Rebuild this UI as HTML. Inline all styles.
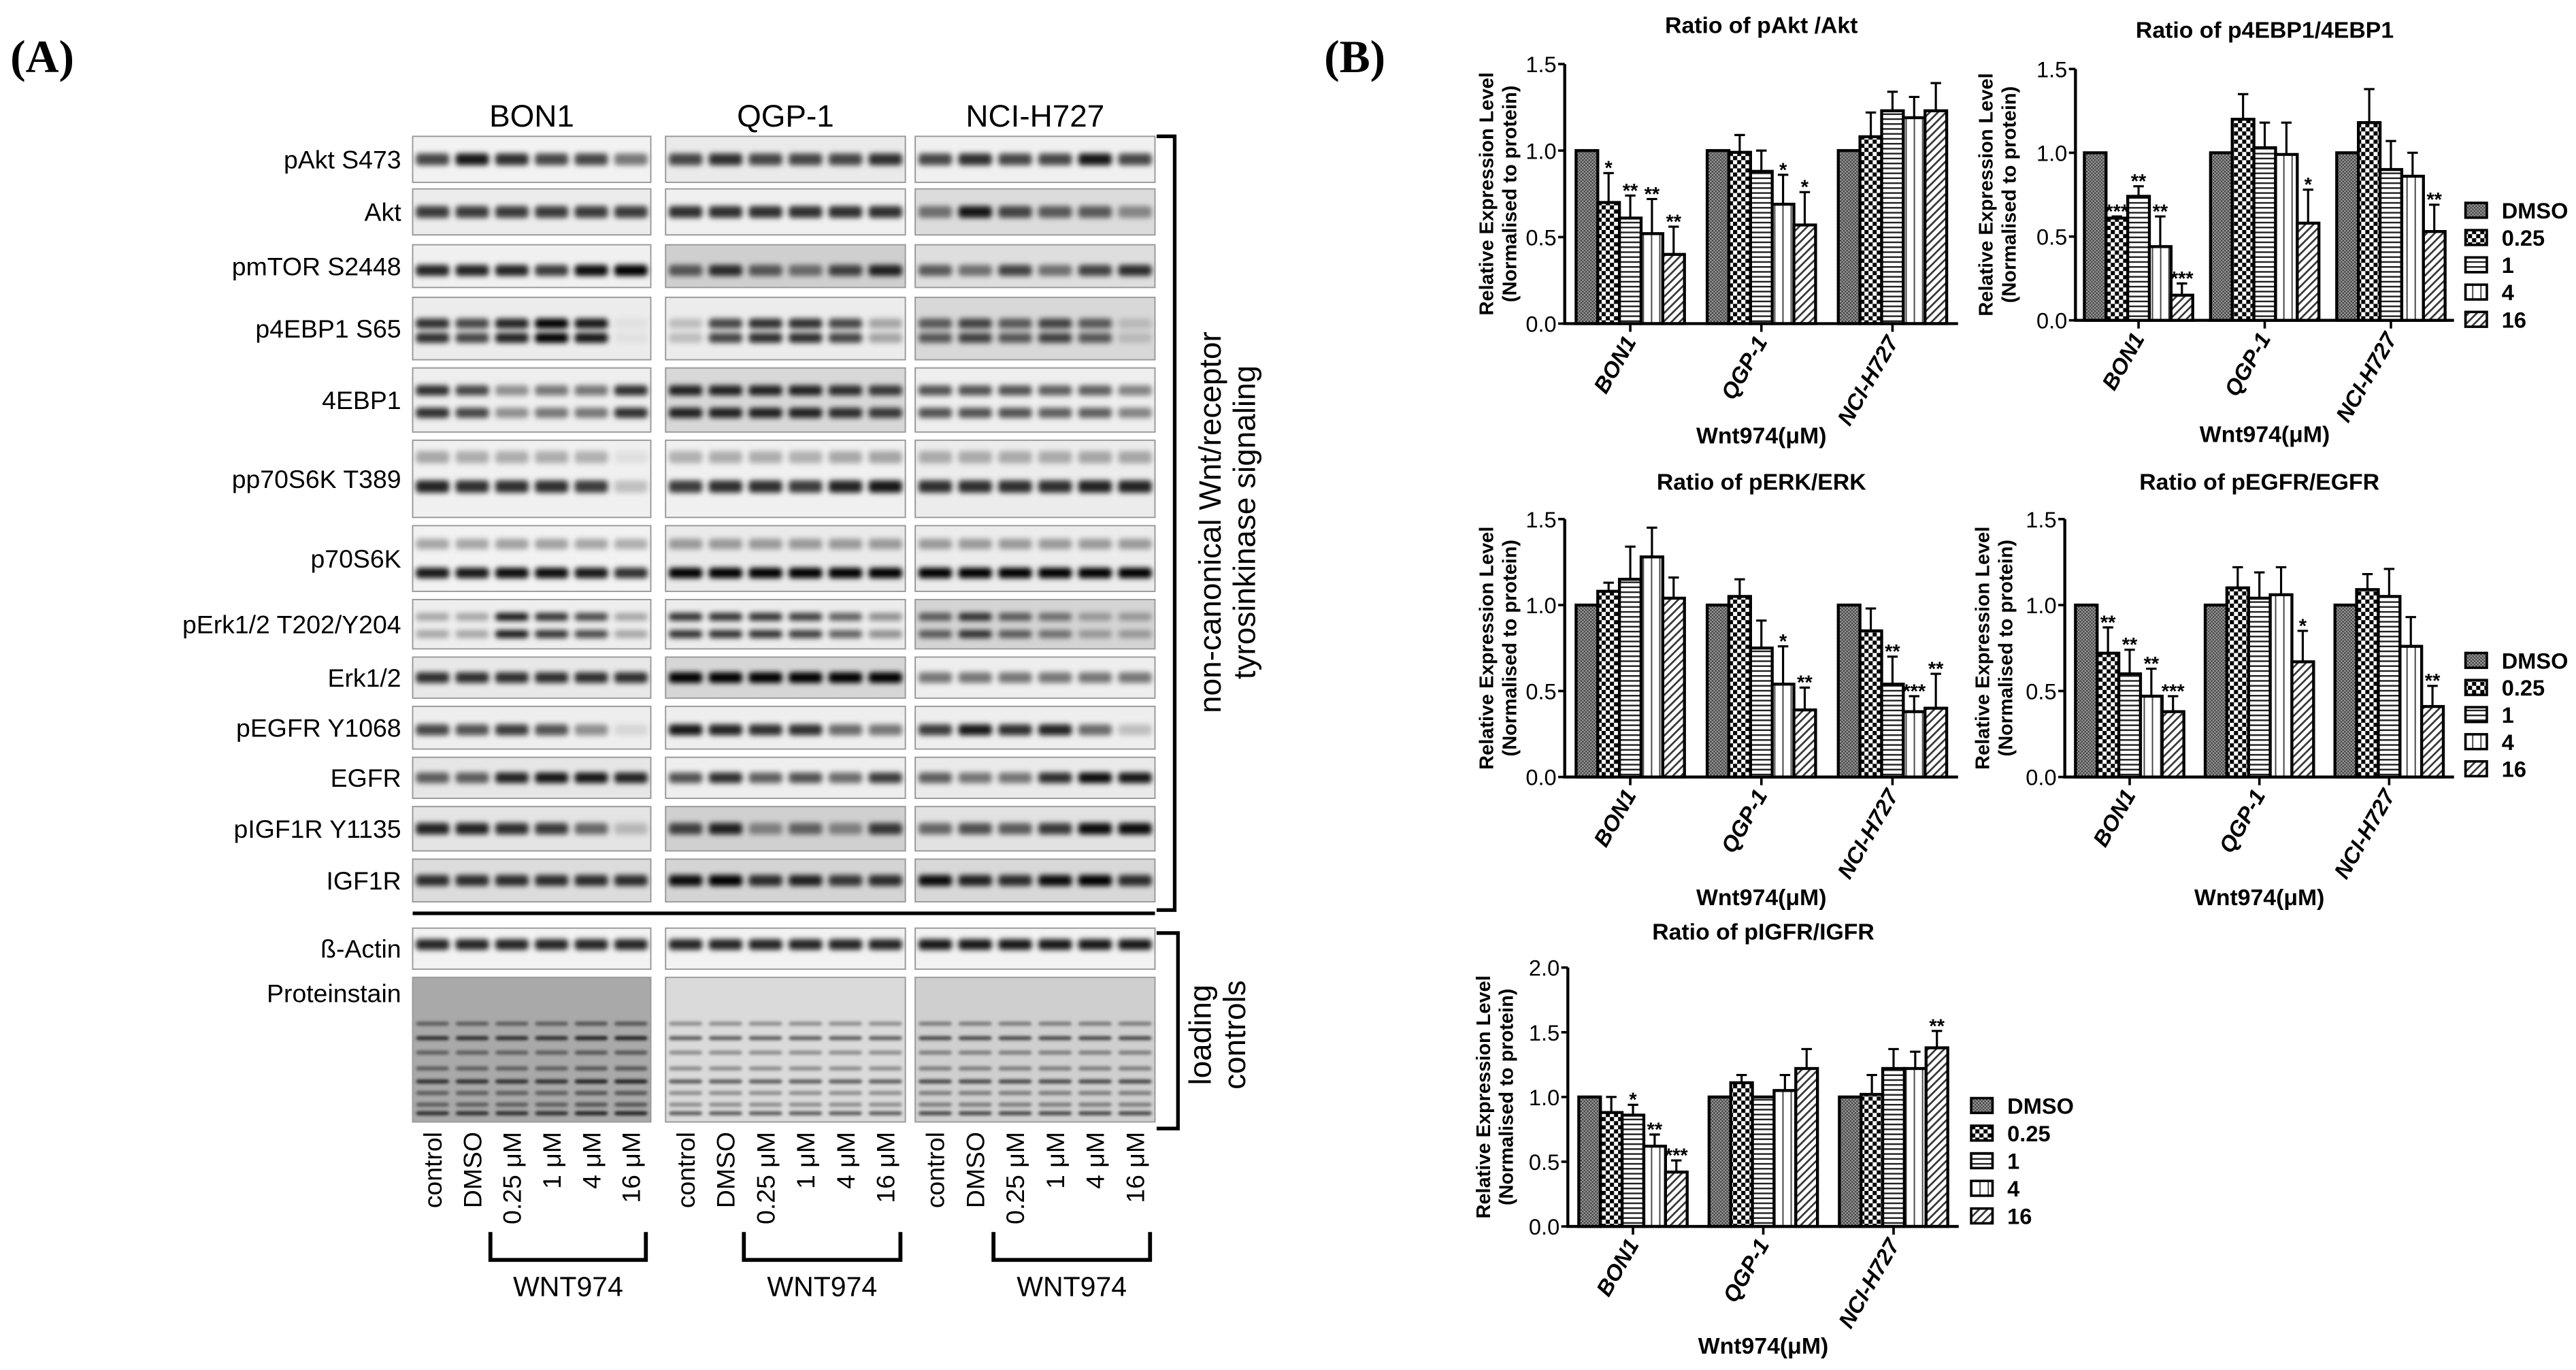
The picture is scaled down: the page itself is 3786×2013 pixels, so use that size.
<!DOCTYPE html>
<html><head><meta charset="utf-8">
<style>
html,body{margin:0;padding:0;background:#fff;}
svg{display:block;}
text{font-family:"Liberation Sans",sans-serif;}
.nar{font-family:"Liberation Sans Narrow","Liberation Sans",sans-serif;}
</style></head>
<body>
<svg id="fig" xmlns="http://www.w3.org/2000/svg" width="3786" height="2013" viewBox="0 0 1568 834">
<defs>
  <filter id="blur" x="-50%" y="-100%" width="200%" height="300%"><feGaussianBlur stdDeviation="1.6"/></filter>
  <filter id="blur2" x="-50%" y="-100%" width="200%" height="300%"><feGaussianBlur stdDeviation="0.9"/></filter>
  <pattern id="pDMSO" patternUnits="userSpaceOnUse" width="2" height="2">
    <rect width="2" height="2" fill="#9a9a9a"/><rect width="1" height="1" fill="#444"/><rect x="1" y="1" width="1" height="1" fill="#444"/>
  </pattern>
  <pattern id="p025" patternUnits="userSpaceOnUse" width="5" height="5">
    <rect width="5" height="5" fill="#fff"/><rect width="2.5" height="2.5" fill="#000"/><rect x="2.5" y="2.5" width="2.5" height="2.5" fill="#000"/>
  </pattern>
  <pattern id="p1" patternUnits="userSpaceOnUse" width="4" height="3">
    <rect width="4" height="3" fill="#fff"/><rect y="0" width="4" height="1" fill="#222"/>
  </pattern>
  <pattern id="p4" patternUnits="userSpaceOnUse" width="5" height="4">
    <rect width="5" height="4" fill="#fff"/><rect x="0" width="0.8" height="4" fill="#444"/>
  </pattern>
  <pattern id="p16" patternUnits="userSpaceOnUse" width="3.5" height="3.5" patternTransform="rotate(45)">
    <rect width="3.5" height="3.5" fill="#fff"/><rect width="1.1" height="3.5" fill="#333"/>
  </pattern>
</defs>
<rect x="0" y="0" width="1568" height="834" fill="#fff"/>
<text x="6" y="44" font-size="28" font-weight="bold" style="font-family:'Liberation Serif',serif">(A)</text>
<text x="806" y="44" font-size="28" font-weight="bold" style="font-family:'Liberation Serif',serif">(B)</text>
<g id="blot"></g>
<g id="charts"></g>
</svg>
<script>
// ---------- Chart data ----------
const categories = ['BON1','QGP-1','NCI-H727'];
const doses = ['DMSO','0.25','1','4','16'];
const fills = ['url(#pDMSO)','url(#p025)','url(#p1)','url(#p4)','url(#p16)'];

const aktValues = [[1,0.70,0.61,0.52,0.40],[1,0.99,0.88,0.69,0.57],[1,1.08,1.23,1.19,1.23]];
const aktErrors = [[0,0.17,0.13,0.20,0.16],[0,0.10,0.12,0.17,0.19],[0,0.14,0.11,0.12,0.16]];
const aktStars  = [['','*','**','**','**'],['','','','*','*'],['','','','','']];

const ebpValues = [[1,0.61,0.74,0.44,0.15],[1,1.20,1.03,0.99,0.58],[1,1.18,0.90,0.86,0.53]];
const ebpErrors = [[0,0.01,0.06,0.18,0.07],[0,0.15,0.15,0.19,0.20],[0,0.20,0.17,0.14,0.16]];
const ebpStars  = [['','***','**','**','***'],['','','','','*'],['','','','','**']];

const erkValues = [[1,1.08,1.15,1.28,1.04],[1,1.05,0.75,0.54,0.39],[1,0.85,0.54,0.38,0.40]];
const erkErrors = [[0,0.05,0.19,0.17,0.12],[0,0.10,0.16,0.22,0.13],[0,0.13,0.16,0.09,0.20]];
const erkStars  = [['','','','',''],['','','','*','**'],['','','**','***','**']];

const egfrValues = [[1,0.72,0.60,0.47,0.38],[1,1.10,1.04,1.06,0.67],[1,1.09,1.05,0.76,0.41]];
const egfrErrors = [[0,0.15,0.14,0.16,0.09],[0,0.12,0.15,0.16,0.18],[0,0.09,0.16,0.17,0.12]];
const egfrStars  = [['','**','**','**','***'],['','','','','*'],['','','','','**']];

const igfValues = [[1,0.88,0.86,0.62,0.42],[1,1.11,1.00,1.05,1.22],[1,1.02,1.22,1.22,1.38]];
const igfErrors = [[0,0.12,0.08,0.09,0.09],[0,0.06,0,0.12,0.15],[0,0.15,0.15,0.13,0.13]];
const igfStars  = [['','','*','**','***'],['','','','',''],['','','','','**']];

const yTicks15 = [0,0.5,1.0,1.5];
const yTicks20 = [0,0.5,1.0,1.5,2.0];

const NS='http://www.w3.org/2000/svg';
function el(tag, attrs, parent){const e=document.createElementNS(NS,tag);for(const k in attrs)e.setAttribute(k,attrs[k]);if(parent)parent.appendChild(e);return e;}

function drawChart(cfg, values, errors, stars, ticks){
  const root=document.getElementById('charts');
  const g=el('g',{},root);
  
  
  const ymax=ticks[ticks.length-1];
  const ys=v=>cfg.Y0 - v/ymax*(cfg.Y0-cfg.YT);
  const bw=(cfg.R-cfg.L)/categories.length;
  const barW=13.2;
  const xc=i=>cfg.L+bw*(i+0.5);
  const t=el('text',{x:(cfg.L+cfg.R)/2,y:cfg.titleY,'text-anchor':'middle','font-size':14,'font-weight':'bold',class:'nar'},g);
  t.textContent=cfg.title;
  
  
  const yl=el('text',{transform:`translate(${cfg.ylabX},${(cfg.Y0+cfg.YT)/2}) rotate(-90)`,'text-anchor':'middle','font-size':12,'font-weight':'bold'},g);
  
  
  const ts1=el('tspan',{x:0,y:-1},yl);ts1.textContent='Relative Expression Level';
  const ts2=el('tspan',{x:0,y:13},yl);ts2.textContent='(Normalised to protein)';
  categories.forEach((c,i)=>{
    doses.forEach((d,j)=>{
      const v=values[i][j], e=errors[i][j];
      const x=xc(i)+(j-2.5)*barW;
      const r=el('rect',{x:x,y:ys(v),width:barW,height:cfg.Y0-ys(v),fill:fills[j],stroke:'#000','stroke-width':1.8},g);
      
      
      if(e>0){
        const cx=x+barW/2;
        const eb=el('path',{d:`M${cx},${ys(v)} V${ys(v+e)} M${cx-3.2},${ys(v+e)} H${cx+3.2}`,stroke:'#000','stroke-width':1.3,fill:'none'},g);
        
        
      }
      const s=stars[i][j];
      if(s){
        const st=el('text',{x:x+barW/2,y:ys(v+e)+1,'text-anchor':'middle','font-size':12,'font-weight':'bold'},g);
        st.textContent=s;
        
        
      }
    });
    const tk=el('line',{x1:xc(i),x2:xc(i),y1:cfg.Y0,y2:cfg.Y0+5,stroke:'#000','stroke-width':1.5},g);
    
    
    const cl=el('text',{transform:`translate(${xc(i)+4},${cfg.Y0+11}) rotate(-60)`,'text-anchor':'end','font-size':13.5,'font-style':'italic','font-weight':'bold',class:'nar'},g);
    cl.textContent=c;
    
    
  });
  const ax=el('path',{d:`M${cfg.L},${cfg.YT} V${cfg.Y0} H${cfg.R}`,stroke:'#000','stroke-width':1.8,fill:'none'},g);
  
  
  ticks.forEach(v=>{
    const l=el('line',{x1:cfg.L-4,x2:cfg.L,y1:ys(v),y2:ys(v),stroke:'#000','stroke-width':1.5},g);
    
    
    const tl=el('text',{x:cfg.L-5,y:ys(v)+5,'text-anchor':'end','font-size':13.5,class:'nar'},g);
    tl.textContent=v.toFixed(1);
    
    
  });
  const xl=el('text',{x:(cfg.L+cfg.R)/2,y:cfg.xlabY,'text-anchor':'middle','font-size':14,'font-weight':'bold',class:'nar'},g);
  xl.textContent='Wnt974(\u03BCM)';
  
  
  if(cfg.legend){
    const lg=el('g',{},g);
    
    
    doses.forEach((d,j)=>{
      const y=cfg.legend.y0+j*cfg.legend.dy;
      const b=el('rect',{x:cfg.legend.x,y:y-4.5,width:13,height:9,fill:fills[j],stroke:'#000','stroke-width':1.5},lg);
      
      
      const tx=el('text',{x:cfg.legend.x+22,y:y+5,'font-size':13.5,'font-weight':'bold',class:'nar'},lg);
      tx.textContent=d;
      
      
    });
  }
}

drawChart({name:'chart-pakt-akt',title:'Ratio of pAkt /Akt',L:952.5,R:1192,Y0:197,YT:39,titleY:20,xlabY:270,ylabX:910},aktValues,aktErrors,aktStars,yTicks15);
drawChart({name:'chart-p4ebp1-4ebp1',title:'Ratio of p4EBP1/4EBP1',L:1263.5,R:1494,Y0:195,YT:42,titleY:23,xlabY:269,ylabX:1214,legend:{x:1501,y0:128,dy:16.6}},ebpValues,ebpErrors,ebpStars,yTicks15);
drawChart({name:'chart-perk-erk',title:'Ratio of pERK/ERK',L:952.5,R:1192,Y0:473,YT:316,titleY:298,xlabY:551,ylabX:910},erkValues,erkErrors,erkStars,yTicks15);
drawChart({name:'chart-pegfr-egfr',title:'Ratio of pEGFR/EGFR',L:1257,R:1494,Y0:473,YT:316,titleY:298,xlabY:551,ylabX:1212,legend:{x:1501,y0:402,dy:16.5}},egfrValues,egfrErrors,egfrStars,yTicks15);
drawChart({name:'chart-pigfr-igfr',title:'Ratio of pIGFR/IGFR',L:954.4,R:1192.4,Y0:746.6,YT:589,titleY:572,xlabY:824,ylabX:908,legend:{x:1200,y0:673,dy:16.8}},igfValues,igfErrors,igfStars,yTicks20);

// ---------- Western blot (illustrative) ----------
const blotRows = [
 {n:'pAkt S473',t:83,b:111,bands:[0.5],bg:['#f2f2f2','#eaeaea','#f0f0f0'],I:[[.7,.9,.8,.7,.7,.5],[.7,.8,.7,.7,.7,.8],[.7,.8,.7,.7,.9,.7]]},
 {n:'Akt',t:115,b:143,bands:[0.5],bg:['#ececec','#f0f0f0','#dcdcdc'],I:[[.75,.75,.75,.75,.75,.75],[.8,.8,.8,.8,.8,.8],[.5,.9,.7,.6,.6,.4]]},
 {n:'pmTOR S2448',t:149,b:175,bands:[0.6],bg:['#f0f0f0','#cfcfcf','#dedede'],I:[[.85,.85,.85,.75,.95,1],[.6,.8,.6,.5,.7,.85],[.6,.5,.7,.5,.7,.8]]},
 {n:'p4EBP1 S65',t:181,b:219,bands:[0.42,0.65],bg:['#ececec','#ececec','#d8d8d8'],I:[[.8,.7,.85,1,.9,.05],[.2,.7,.8,.8,.7,.3],[.6,.7,.6,.7,.6,.15]]},
 {n:'4EBP1',t:224,b:263,bands:[0.35,0.7],bg:['#eeeeee','#d8d8d8','#eeeeee'],I:[[.8,.7,.4,.5,.5,.8],[.85,.85,.85,.85,.8,.75],[.65,.65,.65,.6,.6,.45]]},
 {n:'pp70S6K T389',t:268,b:315,bands:[0.22,0.6],bg:['#f0f0f0','#f0f0f0','#ececec'],I:[[.85,.8,.8,.8,.75,.2],[.75,.8,.8,.75,.85,.9],[.8,.8,.8,.8,.85,.85]]},
 {n:'p70S6K',t:320,b:360,bands:[0.28,0.72],bg:['#f2f2f2','#eaeaea','#ececec'],I:[[.9,.9,.95,.95,.9,.8],[1,1,1,1,1,1],[1,1,1,1,1,1]]},
 {n:'pErk1/2 T202/Y204',t:365,b:395,bands:[0.35,0.7],bg:['#eeeeee','#ececec','#d4d4d4'],I:[[.3,.3,.9,.8,.7,.3],[.8,.8,.8,.75,.6,.4],[.6,.8,.6,.5,.3,.3]]},
 {n:'Erk1/2',t:400,b:425,bands:[0.5],bg:['#e8e8e8','#d6d6d6','#eeeeee'],I:[[.8,.8,.8,.8,.8,.8],[1,1,1,1,1,1],[.5,.5,.5,.5,.5,.5]]},
 {n:'pEGFR Y1068',t:430,b:456,bands:[0.55],bg:['#eeeeee','#eeeeee','#eeeeee'],I:[[.7,.65,.75,.65,.4,.1],[.9,.85,.8,.8,.55,.5],[.75,.9,.8,.85,.55,.2]]},
 {n:'EGFR',t:461,b:486,bands:[0.5],bg:['#e6e6e6','#eeeeee','#eaeaea'],I:[[.6,.6,.85,.9,.9,.85],[.65,.8,.6,.65,.55,.75],[.6,.5,.5,.8,.95,.9]]},
 {n:'pIGF1R Y1135',t:491,b:518,bands:[0.5],bg:['#e4e4e4','#d0d0d0','#e2e2e2'],I:[[.85,.85,.8,.75,.55,.2],[.7,.85,.4,.55,.4,.75],[.55,.65,.6,.75,.95,.95]]},
 {n:'IGF1R',t:523,b:549,bands:[0.5],bg:['#dcdcdc','#d4d4d4','#d8d8d8'],I:[[.8,.8,.8,.8,.8,.8],[.95,1,.8,.85,.75,.8],[.95,.85,.8,.95,1,.8]]},
 {n:'\u00DF-Actin',t:565,b:590,bands:[0.4],bg:['#f2f2f2','#f2f2f2','#f2f2f2'],I:[[.85,.85,.85,.85,.85,.85],[.85,.85,.85,.85,.85,.85],[.9,.9,.9,.9,.9,.9]]},
 {n:'Proteinstain',t:595,b:683,bands:[0.32,0.42,0.52,0.63,0.72,0.8,0.88,0.94],bg:['#a9a9a9','#dadada','#cfcfcf'],I:[[.45,.45,.45,.45,.5,.5],[.35,.35,.35,.35,.35,.35],[.4,.4,.4,.4,.4,.4]],label:610}
];
const panelX=[[251,396],[405,551],[557,703]];
const cellLines=['BON1','QGP-1','NCI-H727'];
const laneNames=['control','DMSO','0.25 \u03BCM','1 \u03BCM','4 \u03BCM','16 \u03BCM'];
(function(){
  const root=document.getElementById('blot');
  cellLines.forEach((c,p)=>{
    const h=el('text',{x:(panelX[p][0]+panelX[p][1])/2,y:77,'text-anchor':'middle','font-size':19,class:'nar'},root);
    h.textContent=c;
    
    
  });
  blotRows.forEach(r=>{
    const lab=el('text',{x:244,y:(r.label||(r.t+r.b)/2+5.5),'text-anchor':'end','font-size':15.5,class:'nar'},root);
    lab.textContent=r.n;
    
    
    panelX.forEach((px,p)=>{
      const g=el('g',{},root);
      
      
      el('rect',{x:px[0],y:r.t,width:px[1]-px[0],height:r.b-r.t,fill:r.bg[p]},g);
      const lw=(px[1]-px[0])/6;
      const cp=el('g',{filter:r.n==='Proteinstain'?'url(#blur2)':'url(#blur)'},g);
      for(let l=0;l<6;l++){
        const cx=px[0]+lw*(l+0.5);
        r.bands.forEach((bf,bi)=>{
          let I=r.I[p][l];
          if(r.bands.length===2 && r.n.indexOf('p70')>=0 && bi===0) I=I*0.35;
          if(r.n==='Proteinstain') I=I*(bi%3===1?1.6:1);
          const bh=r.n==='Proteinstain'?2.5:Math.max(4,(r.b-r.t)*(r.bands.length>1?0.16:0.26));
          el('rect',{x:cx-lw*0.42,y:r.t+(r.b-r.t)*bf-bh/2,width:lw*0.84,height:bh,rx:2,fill:'#000','fill-opacity':Math.min(1,I)},cp);
        });
      }
      el('rect',{x:px[0],y:r.t,width:px[1]-px[0],height:r.b-r.t,fill:'none',stroke:'#999','stroke-width':0.8},g);
    });
  });
  const sep=el('line',{x1:251,x2:703,y1:556,y2:556,stroke:'#000','stroke-width':2.2},root);
  
  
  const br1=el('path',{d:'M704,83 H715 V554 H704',stroke:'#000','stroke-width':2.2,fill:'none'},root);
  
  
  const br2=el('path',{d:'M704,568 H717 V687 H704',stroke:'#000','stroke-width':2.2,fill:'none'},root);
  
  
  const st=el('text',{'font-size':19,'text-anchor':'middle'},root);
  st.setAttribute('transform','translate(743,318) rotate(-90)');
  
  
  const a1=el('tspan',{x:0,y:0},st);a1.textContent='non-canonical Wnt/receptor';
  const a2=el('tspan',{x:0,y:21},st);a2.textContent='tyrosinkinase signaling';
  const lc=el('text',{transform:'translate(737,630) rotate(-90)','font-size':19,'text-anchor':'middle'},root);
  
  
  const b1=el('tspan',{x:0,y:0},lc);b1.textContent='loading';
  const b2=el('tspan',{x:0,y:21},lc);b2.textContent='controls';
  panelX.forEach((px,p)=>{
    const lw=(px[1]-px[0])/6;
    laneNames.forEach((n,l)=>{
      const cx=px[0]+lw*(l+0.5)+5.5;
      const t=el('text',{transform:`translate(${cx},689) rotate(-90)`,'text-anchor':'end','font-size':15.5},root);
      t.textContent=n;
      
      
    });
    const x1=px[0]+lw*2-1, x2=px[0]+lw*6-3;
    const wb=el('path',{d:`M${x1},750 V767 H${x2} V750`,stroke:'#000','stroke-width':2.4,fill:'none'},root);
    
    
    const wt=el('text',{x:(x1+x2)/2,y:789,'text-anchor':'middle','font-size':17,class:'nar'},root);
    wt.textContent='WNT974';
    
    
  });
})();
</script>
</body></html>
